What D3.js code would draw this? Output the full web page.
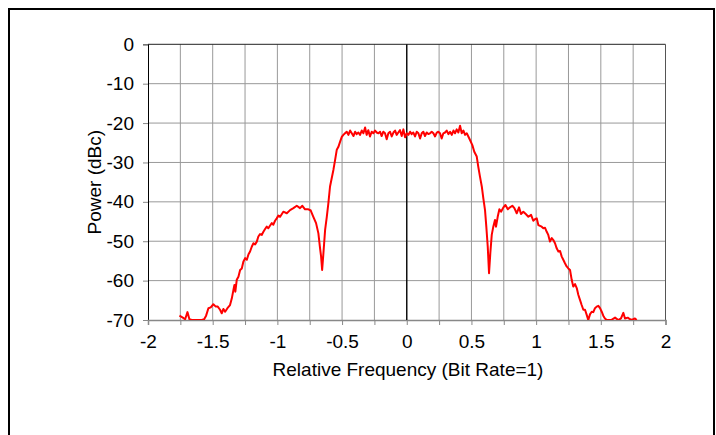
<!DOCTYPE html>
<html>
<head>
<meta charset="utf-8">
<script src="https://cdn.jsdelivr.net/npm/d3@7"></script>
<style>
  body { margin: 0; background: #fff; }
  svg text { font-family: "Liberation Sans", Arial, sans-serif; fill: #000; }
</style>
</head>
<body>
<div id="chart"></div>
<script>
// spectrum trace: relative frequency (bit rate = 1) and power in dBc
var freq = [
  -1.757, -1.731, -1.713, -1.695, -1.680, -1.662, -1.636, -1.610, -1.584, -1.566,
  -1.551, -1.533, -1.515, -1.495, -1.476, -1.461, -1.443, -1.430, -1.417, -1.404,
  -1.386, -1.366, -1.352, -1.340, -1.332, -1.325, -1.314, -1.301, -1.288, -1.275,
  -1.263, -1.249, -1.236, -1.223, -1.211, -1.198, -1.185, -1.172, -1.159, -1.147,
  -1.134, -1.121, -1.108, -1.095, -1.082, -1.070, -1.056, -1.043, -1.031, -1.018,
  -1.005, -0.992, -0.979, -0.954, -0.927, -0.902, -0.876, -0.850, -0.825, -0.807,
  -0.786, -0.760, -0.742, -0.722, -0.701, -0.683, -0.670, -0.662, -0.654, -0.644,
  -0.631, -0.618, -0.606, -0.593, -0.580, -0.567, -0.554, -0.541, -0.529, -0.515,
  -0.502,
  -0.490, -0.477, -0.464, -0.451, -0.438, -0.425, -0.412, -0.399, -0.387, -0.374,
  -0.361, -0.348, -0.335, -0.322, -0.310, -0.297, -0.284, -0.271, -0.258, -0.245,
  -0.232, -0.219, -0.206, -0.194, -0.181, -0.168, -0.155, -0.142, -0.129, -0.116,
  -0.103, -0.090, -0.078, -0.065, -0.052, -0.039, -0.026, -0.013, 0.000, 0.013,
  0.026, 0.038, 0.051, 0.064, 0.077, 0.090, 0.103, 0.116, 0.128, 0.141,
  0.154, 0.167, 0.180, 0.193, 0.206, 0.219, 0.232, 0.244, 0.257, 0.270,
  0.283, 0.296, 0.309, 0.322, 0.335, 0.348, 0.361, 0.373, 0.386, 0.399,
  0.412, 0.425, 0.438, 0.451, 0.464, 0.476,
  0.489, 0.507, 0.522, 0.541, 0.553, 0.566, 0.580, 0.592, 0.605, 0.615,
  0.626, 0.636, 0.646, 0.657, 0.669, 0.682, 0.690, 0.703, 0.716, 0.729,
  0.747, 0.763, 0.781, 0.798, 0.816, 0.832, 0.850, 0.868, 0.883, 0.901,
  0.920, 0.940, 0.961, 0.978, 0.991, 1.005, 1.017, 1.030, 1.043, 1.056,
  1.069, 1.082, 1.094, 1.107, 1.121, 1.133, 1.146, 1.159, 1.172, 1.185,
  1.198, 1.210, 1.223, 1.236, 1.249, 1.262, 1.275, 1.287, 1.301, 1.314,
  1.326, 1.339, 1.352, 1.365, 1.378, 1.391, 1.403, 1.417, 1.430, 1.442,
  1.455, 1.468, 1.481, 1.494, 1.507, 1.519, 1.532, 1.546, 1.580, 1.610,
  1.635, 1.656, 1.674, 1.687, 1.708, 1.726, 1.739, 1.764, 1.777
];
var power = [
  -68.9, -69.4, -69.8, -68.0, -69.8, -70.0, -70.0, -70.0, -70.0, -69.8,
  -68.9, -67.0, -66.8, -66.0, -66.6, -66.6, -67.4, -68.3, -67.2, -67.9,
  -67.0, -66.2, -64.5, -62.4, -61.1, -62.8, -59.8, -59.0, -57.3, -56.9,
  -55.2, -54.3, -54.7, -53.3, -52.6, -51.4, -50.5, -50.8, -50.1, -48.8,
  -48.2, -48.4, -47.6, -46.9, -46.3, -46.7, -46.0, -45.4, -45.8, -44.8,
  -44.2, -43.5, -43.8, -42.5, -42.9, -42.1, -41.6, -41.0, -41.6, -41.0,
  -41.9, -41.9, -42.2, -43.8, -45.4, -48.0, -51.8, -53.9, -57.3, -53.0,
  -47.1, -43.8, -40.4, -36.1, -34.0, -31.9, -29.4, -26.8, -26.1, -24.7,
  -23.5,
  -23.0, -22.6, -22.2, -23.0, -21.9, -22.6, -23.3, -22.2, -22.8, -22.4,
  -23.0, -21.9, -22.6, -21.1, -23.0, -21.8, -23.4, -22.2, -22.6, -21.9,
  -22.4, -22.6, -22.2, -23.3, -22.2, -22.6, -24.1, -22.6, -22.2, -23.4,
  -22.4, -21.9, -23.0, -22.4, -21.8, -23.3, -21.6, -23.6, -22.6, -23.0,
  -22.2, -22.8, -22.4, -23.4, -22.2, -22.6, -23.9, -22.6, -22.2, -23.3,
  -22.4, -22.8, -22.6, -22.2, -22.6, -23.4, -22.4, -22.2, -22.6, -23.9,
  -22.6, -22.4, -21.9, -22.8, -22.2, -23.0, -21.9, -22.6, -21.6, -22.4,
  -20.7, -22.6, -21.9, -23.0, -22.6, -23.4,
  -24.3, -25.6, -27.3, -28.5, -31.1, -33.6, -36.1, -39.1, -42.1, -46.3,
  -51.4, -58.1, -53.0, -48.4, -46.3, -44.6, -46.3, -43.8, -41.9, -42.5,
  -41.4, -40.8, -41.9, -41.4, -41.0, -41.6, -42.9, -41.4, -43.1, -42.5,
  -43.1, -43.8, -43.3, -44.8, -44.4, -44.2, -45.9, -46.1, -46.3, -46.7,
  -46.6, -47.6, -48.4, -50.1, -49.2, -49.7, -50.5, -51.8, -52.6, -52.5,
  -53.9, -54.7, -55.6, -56.4, -56.9, -57.3, -59.8, -61.5, -60.9, -61.9,
  -63.6, -64.9, -66.2, -67.4, -67.4, -68.7, -70.0, -68.5, -67.9, -68.0,
  -67.0, -66.6, -66.4, -67.0, -67.9, -68.9, -69.6, -70.0, -70.0, -69.4,
  -70.0, -69.6, -68.2, -69.6, -69.4, -69.8, -70.0, -69.6, -70.0
];

var xTickLabels = [-2, -1.5, -1, -0.5, 0, 0.5, 1, 1.5, 2];
var yTickLabels = [0, -10, -20, -30, -40, -50, -60, -70];
var xGridSteps = [-2, -1.75, -1.5, -1.25, -1, -0.75, -0.5, -0.25, 0, 0.25, 0.5, 0.75, 1, 1.25, 1.5, 1.75, 2];

var width = 716, height = 435;
var plot = { left: 148, right: 665.5, top: 44.3, bottom: 320 };
var fontSize = '19px';

// plain hyphen for negatives, like the original
function fmt(d) { return String(d); }

var svg = d3.select('#chart').append('svg')
    .attr('width', width)
    .attr('height', height);

// outer chart frame (bottom edge falls outside the window)
svg.append('rect')
    .attr('x', 9).attr('y', 9)
    .attr('width', 705).attr('height', 440)
    .attr('fill', 'none')
    .attr('stroke', '#000')
    .attr('stroke-width', 2);

var x = d3.scaleLinear().domain([-2, 2]).range([plot.left, plot.right]);
var y = d3.scaleLinear().domain([-70, 0]).range([plot.bottom, plot.top]);

// grid
var grid = svg.append('g').attr('class', 'grid');
grid.selectAll('line.v')
    .data(xGridSteps.filter(function(d) { return d !== 0 && d !== -2 && d !== 2; }))
  .enter().append('line')
    .attr('class', 'v')
    .attr('x1', function(d) { return x(d); }).attr('x2', function(d) { return x(d); })
    .attr('y1', plot.top).attr('y2', plot.bottom)
    .attr('stroke', '#999').attr('stroke-width', 1);
grid.selectAll('line.h')
    .data(yTickLabels.filter(function(d) { return d !== 0 && d !== -70; }))
  .enter().append('line')
    .attr('class', 'h')
    .attr('x1', plot.left).attr('x2', plot.right)
    .attr('y1', function(d) { return y(d); }).attr('y2', function(d) { return y(d); })
    .attr('stroke', '#999').attr('stroke-width', 1);

// plot frame
svg.append('line').attr('x1', plot.left).attr('x2', plot.right).attr('y1', plot.top).attr('y2', plot.top)
    .attr('stroke', '#222').attr('stroke-width', 1);
svg.append('line').attr('x1', plot.right).attr('x2', plot.right).attr('y1', plot.top).attr('y2', plot.bottom)
    .attr('stroke', '#555').attr('stroke-width', 1);

// y axis
var yAxis = d3.axisLeft(y).tickValues(yTickLabels).tickSize(5).tickPadding(9).tickFormat(fmt);
var gy = svg.append('g').attr('transform', 'translate(' + plot.left + ',0)').call(yAxis);
gy.select('.domain').attr('stroke', '#000');
gy.selectAll('.tick line').attr('stroke', '#888');
gy.selectAll('text').style('font-size', fontSize).attr('font-family', null);

// x axis
var xAxis = d3.axisBottom(x).tickValues(xGridSteps).tickSize(5).tickPadding(10)
    .tickFormat(function(d) { return xTickLabels.indexOf(d) >= 0 ? fmt(d) : ''; });
var gx = svg.append('g').attr('transform', 'translate(0,' + plot.bottom + ')').call(xAxis);
gx.select('.domain').attr('stroke', '#888').attr('stroke-width', 1.5);
gx.selectAll('.tick line').attr('stroke', '#888');
gx.selectAll('text').style('font-size', fontSize).attr('font-family', null);

// zero line
svg.append('line')
    .attr('x1', x(0)).attr('x2', x(0))
    .attr('y1', plot.top).attr('y2', plot.bottom)
    .attr('stroke', '#111').attr('stroke-width', 1.5);

// trace
svg.append('clipPath').attr('id', 'clip')
  .append('rect')
    .attr('x', plot.left).attr('y', plot.top - 2)
    .attr('width', plot.right - plot.left).attr('height', plot.bottom - plot.top + 2);

var line = d3.line()
    .x(function(d) { return x(d[0]); })
    .y(function(d) { return y(d[1]); });

svg.append('path')
    .datum(d3.zip(freq, power))
    .attr('clip-path', 'url(#clip)')
    .attr('fill', 'none')
    .attr('stroke', '#ff0000')
    .attr('stroke-width', 2)
    .attr('stroke-linejoin', 'round')
    .attr('d', line);

// axis titles
svg.append('text')
    .attr('x', 408)
    .attr('y', 376)
    .attr('text-anchor', 'middle')
    .style('font-size', fontSize)
    .text('Relative Frequency (Bit Rate=1)');

svg.append('text')
    .attr('transform', 'translate(101,' + ((plot.top + plot.bottom) / 2) + ') rotate(-90)')
    .attr('text-anchor', 'middle')
    .style('font-size', fontSize)
    .text('Power (dBc)');
</script>
</body>
</html>
